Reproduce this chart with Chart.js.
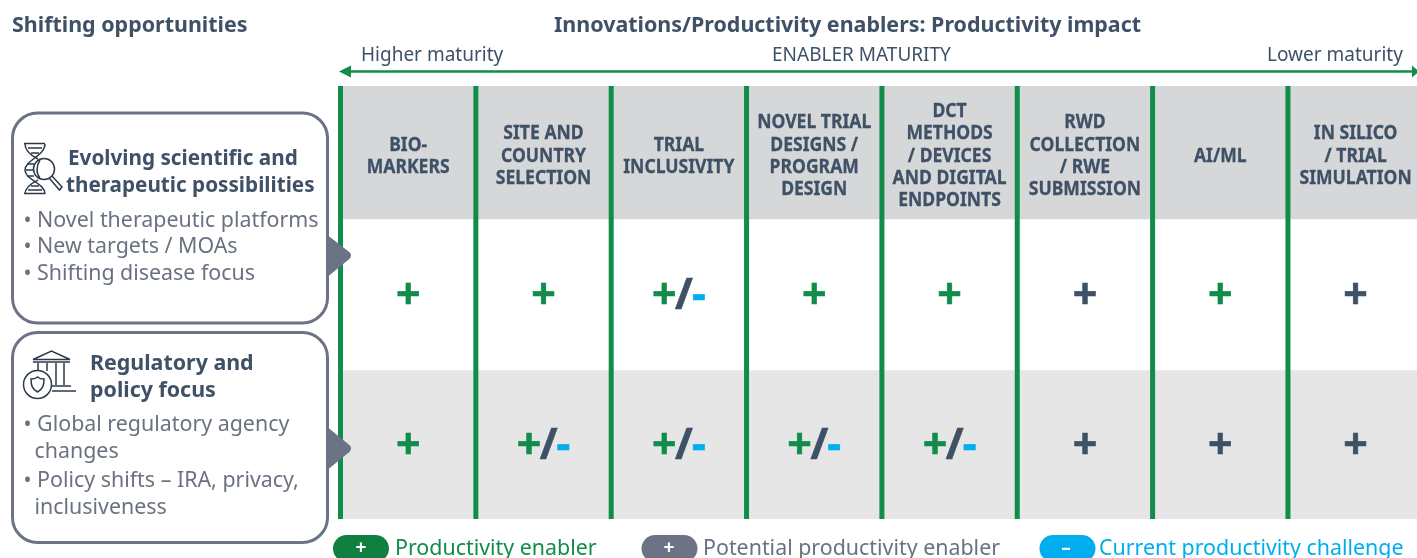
<!DOCTYPE html>
<html>
<head>
<meta charset="utf-8">
<script src="https://cdn.jsdelivr.net/npm/chart.js@4"></script>
<style>
  html, body { margin: 0; padding: 0; background: #fff; overflow: hidden; width: 1417px; height: 558px; }
  #wrap { position: relative; width: 1417px; height: 558px; overflow: hidden; }
  #matrix { position: absolute; left: 0; top: 0; }
  #overlay { position: absolute; left: 0; top: 0; font-family: "Noto Sans", sans-serif; }
  .dark { fill: #3f5166; }
  .grey { fill: #6a7282; }
  .bold { font-weight: 700; }
</style>
</head>
<body>
<div id="wrap">
  <canvas id="matrix" width="1424" height="558"></canvas>
  <svg id="overlay" width="1417" height="558" viewBox="0 0 1417 558">
    <!-- maturity arrow -->
    <line x1="345" y1="71.5" x2="1412" y2="71.5" stroke="#118c4b" stroke-width="2.6"/>
    <polygon points="339,71.5 351,65.5 351,77.5" fill="#118c4b"/>
    <polygon points="1419,71.5 1412,65.5 1412,77.5" fill="#118c4b"/>

    <!-- pointers into the matrix -->
    <path d="M327 236 L349 253 Q351 255 349 258 L327 276 Z" fill="#6b7385" stroke="#6b7385" stroke-linejoin="round" stroke-width="2"/>
    <path d="M327 428 L349 446 Q351 448 349 451 L327 469 Z" fill="#6b7385" stroke="#6b7385" stroke-linejoin="round" stroke-width="2"/>

    <!-- side boxes -->
    <rect x="12.5" y="113" width="315" height="210" rx="25" fill="#fff" stroke="#6b7385" stroke-width="3"/>
    <rect x="12.5" y="332.5" width="315" height="210" rx="25" fill="#fff" stroke="#6b7385" stroke-width="3"/>

    <!-- dna and magnifier icon -->
    <g fill="none" stroke="#2c3a47" stroke-width="1.5">
      <path d="M24 143.5 H45 M24 193.5 H45"/>
      <path d="M45 144 C45 156 25 160 25 170 C25 180 45 183 45 194"/>
      <path d="M25 144 C25 152 34 157 38 159 M25 194 C25 186 34 182 38 180"/>
      <path d="M28 148 H42 M31 153 H39 M27 164 H34 M25.5 170 H33 M27 176 H34 M31 186 H39 M28 190 H42"/>
      <circle cx="44" cy="169" r="10.5"/>
      <path d="M40 160 C36 166 36 173 40 178 M52 176 L62 187 L59.5 190 L49.5 178.5"/>
    </g>

    <!-- building and badge icon -->
    <g fill="none" stroke="#2c3a47" stroke-width="1.5">
      <path d="M33 359.5 L51.5 351 L70 359.5 Z M33 362 H70"/>
      <path d="M38 363 V371 M47 363 V371 M56 363 V385 M64 363 V385 M52 386 H71 M52 391 H76"/>
      <circle cx="37.5" cy="384.5" r="14"/>
      <path d="M37.5 377 C40 379 42 379 44 379 C44 385 43 389 37.5 392 C32 389 31 385 31 379 C33 379 35 379 37.5 377 Z"/>
    </g>

    <!-- headings -->
    <text class="dark bold" x="12" y="32" font-size="21.45">Shifting opportunities</text>
    <text class="dark bold" x="554" y="32" font-size="21.45">Innovations/Productivity enablers: Productivity impact</text>
    <text class="dark" x="361" y="61" font-size="19">Higher maturity</text>
    <text class="dark" x="772" y="61" font-size="19">ENABLER MATURITY</text>
    <text class="dark" x="1267" y="61" font-size="19">Lower maturity</text>

    <!-- first box -->
    <text class="dark bold" x="68" y="165" font-size="20.7">Evolving scientific and</text>
    <text class="dark bold" x="66" y="191.5" font-size="20.7">therapeutic possibilities</text>
    <text class="grey" x="23.5" y="227" font-size="21.4">• Novel therapeutic platforms</text>
    <text class="grey" x="23.5" y="253" font-size="21.4">• New targets / MOAs</text>
    <text class="grey" x="23.5" y="280" font-size="21.4">• Shifting disease focus</text>

    <!-- second box -->
    <text class="dark bold" x="90" y="370" font-size="21.4">Regulatory and</text>
    <text class="dark bold" x="90" y="397" font-size="21.4">policy focus</text>
    <text class="grey" x="23.5" y="431" font-size="21.4">• Global regulatory agency</text>
    <text class="grey" x="34.5" y="458" font-size="21.4">changes</text>
    <text class="grey" x="23.5" y="487" font-size="21.4">• Policy shifts – IRA, privacy,</text>
    <text class="grey" x="34.5" y="514" font-size="21.4">inclusiveness</text>

    <!-- legend -->
    <rect x="333" y="535" width="56" height="27" rx="13.5" fill="#0f8040"/>
    <text x="361" y="554" font-size="19" font-weight="700" fill="#fff" text-anchor="middle">+</text>
    <text x="395" y="555" font-size="21.4" fill="#118c4b">Productivity enabler</text>
    <rect x="641.5" y="535" width="56" height="27" rx="13.5" fill="#6b7385"/>
    <text x="669" y="554" font-size="19" font-weight="700" fill="#fff" text-anchor="middle">+</text>
    <text class="grey" x="703" y="555" font-size="21.4">Potential productivity enabler</text>
    <rect x="1039.5" y="535" width="56" height="27" rx="13.5" fill="#00aeef"/>
    <text x="1066" y="554" font-size="19" font-weight="700" fill="#fff" text-anchor="middle">–</text>
    <text x="1099" y="555" font-size="21.4" fill="#00aeef">Current productivity challenge</text>
  </svg>
</div>
<script>
const categories = [
  'BIO-\nMARKERS',
  'SITE AND\nCOUNTRY\nSELECTION',
  'TRIAL\nINCLUSIVITY',
  'NOVEL TRIAL\nDESIGNS /\nPROGRAM\nDESIGN',
  'DCT\nMETHODS\n/ DEVICES\nAND DIGITAL\nENDPOINTS',
  'RWD\nCOLLECTION\n/ RWE\nSUBMISSION',
  'AI/ML',
  'IN SILICO\n/ TRIAL\nSIMULATION'
]

// impact of each enabler, per row of the matrix
const scientificImpact = ['+', '+', '+/-', '+', '+', 'p', '+', 'p']
const regulatoryImpact = ['+', '+/-', '+/-', '+/-', '+/-', 'p', 'p', 'p']

// the three bands on the y scale, bottom to top
const regulatoryBand = [0, 149]
const scientificBand = [149, 300]
const headerBand = [300, 433]

const GREEN = '#118c4b'
const SLATE = '#3f5166'
const BLUE = '#00aeef'

function bandDataset(band, color) {
  return {
    type: 'bar',
    data: categories.map(() => band),
    backgroundColor: color,
    barPercentage: 1,
    categoryPercentage: 1,
    grouped: false,
    order: 2
  }
}

function dividerDataset(pos) {
  return {
    type: 'line',
    xAxisID: 'xEdges',
    data: [{x: pos, y: regulatoryBand[0]}, {x: pos, y: headerBand[1]}],
    borderColor: GREEN,
    borderWidth: 5,
    pointRadius: 0,
    clip: false,
    order: 1
  }
}

const cellText = {
  id: 'cellText',
  afterDatasetsDraw(chart) {
    const ctx = chart.ctx
    const x = chart.scales.x
    const y = chart.scales.y
    ctx.save()
    ctx.textBaseline = 'middle'
    ctx.textAlign = 'center'
    ctx.lineJoin = 'miter'

    // column headings, squeezed a little like the condensed face
    const headerMid = y.getPixelForValue((headerBand[0] + headerBand[1]) / 2) + 3.4
    ctx.fillStyle = SLATE
    ctx.strokeStyle = SLATE
    ctx.lineWidth = 0.3
    ctx.font = '700 20.2px "Noto Sans"'
    categories.forEach((name, i) => {
      const lines = name.split('\n')
      lines.forEach((line, j) => {
        const py = headerMid + (j - (lines.length - 1) / 2) * 22.3
        ctx.save()
        ctx.translate(x.getPixelForValue(i), py)
        ctx.scale(0.87, 1)
        ctx.fillText(line, 0, 0)
        ctx.strokeText(line, 0, 0)
        ctx.restore()
      })
    })

    // impact signs
    const sign = (text, px, py, color) => {
      ctx.fillStyle = color
      ctx.strokeStyle = color
      ctx.fillText(text, px, py)
      ctx.strokeText(text, px, py)
    }
    const drawSign = (mark, i, band) => {
      const cx = x.getPixelForValue(i)
      const cy = y.getPixelForValue((band[0] + band[1]) / 2) + 2.5
      ctx.font = '700 43px "Noto Sans"'
      ctx.lineWidth = 0.6
      if (mark === '+/-') {
        ctx.textAlign = 'left'
        const w1 = ctx.measureText('+').width - 1.5
        const w2 = ctx.measureText('/').width - 1
        const w3 = ctx.measureText('-').width
        let left = cx - (w1 + w2 + w3) / 2
        sign('+', left, cy, GREEN)
        left += w1
        sign('/', left, cy, SLATE)
        left += w2
        sign('-', left, cy, BLUE)
        ctx.textAlign = 'center'
      } else {
        sign('+', cx, cy, mark === '+' ? GREEN : SLATE)
      }
    }
    scientificImpact.forEach((s, i) => drawSign(s, i, scientificBand))
    regulatoryImpact.forEach((s, i) => drawSign(s, i, regulatoryBand))
    ctx.restore()
  }
}

const datasets = [
  bandDataset(headerBand, '#d6d7d9'),
  bandDataset(scientificBand, '#ffffff'),
  bandDataset(regulatoryBand, '#e6e6e6')
]
categories.forEach((c, i) => datasets.push(dividerDataset(i)))

new Chart(document.getElementById('matrix'), {
  type: 'bar',
  data: {labels: categories, datasets: datasets},
  plugins: [cellText],
  options: {
    responsive: false,
    animation: false,
    layout: {padding: {left: 340.5, right: 0.7, top: 86, bottom: 39}},
    plugins: {legend: {display: false}, tooltip: {enabled: false}},
    scales: {
      x: {display: false},
      xEdges: {type: 'linear', display: false, offset: false, min: 0, max: 8},
      y: {display: false, min: 0, max: 433}
    }
  }
})
</script>
</body>
</html>
